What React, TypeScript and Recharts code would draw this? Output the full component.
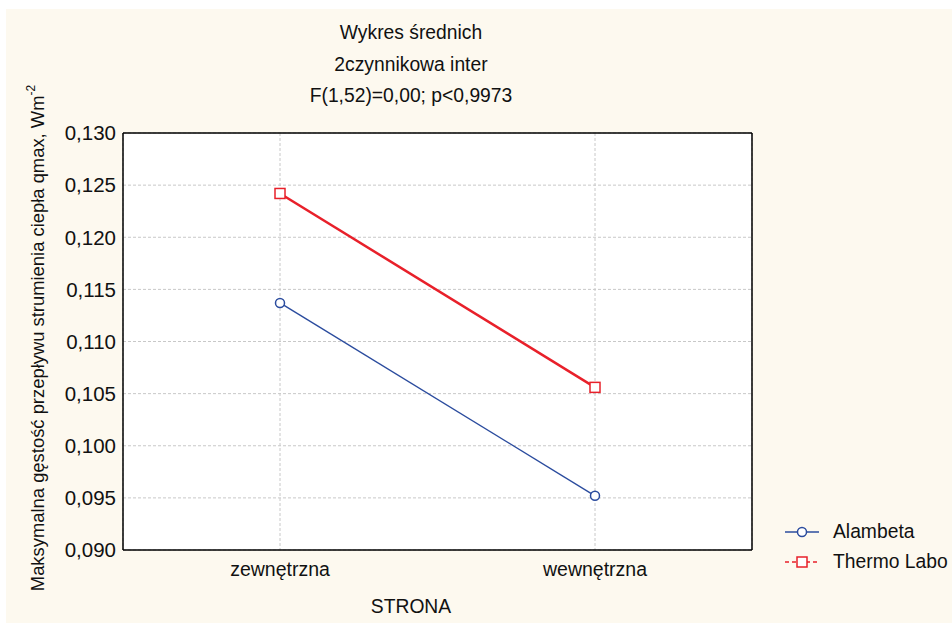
import React from "react";
import {
  LineChart,
  Line,
  XAxis,
  YAxis,
  CartesianGrid,
  Legend,
} from "recharts";

const categories = ["zewnętrzna", "wewnętrzna"];
const alambeta = [0.1137, 0.0952];
const thermoLabo = [0.1242, 0.1056];
const yTicks = [0.09, 0.095, 0.1, 0.105, 0.11, 0.115, 0.12, 0.125, 0.13];
const titleLines = ["Wykres średnich", "2czynnikowa inter", "F(1,52)=0,00; p<0,9973"];

// minor ticks every 0.001 between the major ones
const minorTicks = Array.from({ length: 41 }, (_, i) => +(0.09 + i * 0.001).toFixed(3));

const data = categories.map((c, i) => ({
  strona: c,
  Alambeta: alambeta[i],
  "Thermo Labo": thermoLabo[i],
}));

const BLUE = "#2b4c9e";
const RED = "#e8202a";
const BG = "#fdf9ef";
const FONT = "'Liberation Sans', Arial, sans-serif";
const DOMAIN: [number, number] = [0.09, 0.13];

const fmt = (v: number) => v.toFixed(3).replace(".", ",");

const SquareDot = (props: any) => {
  const { cx, cy } = props;
  if (cx == null || cy == null) return null;
  return (
    <rect x={cx - 5} y={cy - 5} width={10} height={10} fill="#fff" stroke={RED} strokeWidth={1.5} />
  );
};

const YLabel = () => (
  <text
    transform="translate(36, 330) rotate(-90)"
    textAnchor="middle"
    fontSize={18.4}
    fontFamily={FONT}
    fill="#111"
  >
    Maksymalna gęstość przepływu strumienia ciepła qmax, Wm
    <tspan dy={-9} fontSize={12}>-2</tspan>
  </text>
);

const XLabel = () => (
  <text x={403} y={605} textAnchor="middle" fontSize={19.3} fontFamily={FONT} fill="#111">
    STRONA
  </text>
);

const LegendContent = () => (
  <div style={{ fontFamily: FONT, fontSize: 19.3, color: "#111", whiteSpace: "nowrap" }}>
    <div style={{ display: "flex", alignItems: "center", height: 30 }}>
      <svg width={48} height={14} style={{ flexShrink: 0 }}>
        <line x1={0} y1={7} x2={34} y2={7} stroke={BLUE} strokeWidth={1.5} />
        <circle cx={17} cy={7} r={4.5} fill="#fff" stroke={BLUE} strokeWidth={1.5} />
      </svg>
      <span>Alambeta</span>
    </div>
    <div style={{ display: "flex", alignItems: "center", height: 30 }}>
      <svg width={48} height={14} style={{ flexShrink: 0 }}>
        <line x1={0} y1={7} x2={34} y2={7} stroke={RED} strokeWidth={1.5} strokeDasharray="4 3" />
        <rect x={12} y={2} width={10} height={10} fill="#fff" stroke={RED} strokeWidth={1.5} />
      </svg>
      <span>Thermo Labo</span>
    </div>
  </div>
);

export default function App() {
  return (
    <div style={{ position: "fixed", left: 0, top: 0, width: 952, height: 623, background: "#fff", overflow: "hidden" }}>
      <style>{"body{margin:0;overflow:hidden}"}</style>
      <div style={{ position: "absolute", left: 6, top: 9, right: 0, bottom: 0, background: BG }} />
      <div style={{ position: "absolute", left: 8, top: 8, width: 944, height: 615 }}>
        <div
          style={{
            position: "absolute",
            left: 253,
            width: 300,
            top: 9,
            textAlign: "center",
            fontFamily: FONT,
            fontSize: 19.3,
            color: "#111",
            lineHeight: "31.5px",
          }}
        >
          {titleLines.map((t) => (
            <div key={t}>{t}</div>
          ))}
        </div>
        <LineChart
          width={944}
          height={615}
          data={data}
          margin={{ top: 125, right: 200, bottom: 43, left: 55 }}
          style={{ fontFamily: FONT }}
        >
          <CartesianGrid
            fill="#ffffff"
            stroke="#c8c8c8"
            strokeDasharray="3 2"
            horizontalValues={yTicks}
          />
          <XAxis
            dataKey="strona"
            padding={{ left: 157, right: 157 }}
            height={30}
            axisLine={{ stroke: "#000", strokeWidth: 1.5 }}
            tickLine={false}
            tickSize={0}
            tickMargin={12}
            tick={{ fill: "#111", fontSize: 19.5 }}
            label={{ content: () => <XLabel /> }}
          />
          <XAxis
            xAxisId="bottomTicks"
            dataKey="strona"
            padding={{ left: 157, right: 157 }}
            mirror
            axisLine={false}
            tick={false}
            tickLine={{ stroke: "#000", strokeWidth: 1.2 }}
            tickSize={3}
          />
          <XAxis
            xAxisId="top"
            dataKey="strona"
            orientation="top"
            mirror
            axisLine={{ stroke: "#000", strokeWidth: 1.5 }}
            tick={false}
            tickLine={false}
          />
          <YAxis
            type="number"
            domain={DOMAIN}
            ticks={yTicks}
            interval={0}
            width={60}
            tickFormatter={fmt}
            axisLine={{ stroke: "#000", strokeWidth: 1.5 }}
            tickLine={false}
            tickSize={0}
            tickMargin={7}
            tick={{ fill: "#111", fontSize: 20.5 }}
            label={{ content: () => <YLabel /> }}
          />
          <YAxis
            yAxisId="minorL"
            type="number"
            domain={DOMAIN}
            ticks={minorTicks}
            interval={0}
            mirror
            axisLine={false}
            tick={false}
            tickLine={{ stroke: "#000", strokeWidth: 1.2 }}
            tickSize={3}
          />
          <YAxis
            yAxisId="minorR"
            orientation="right"
            type="number"
            domain={DOMAIN}
            ticks={minorTicks}
            interval={0}
            mirror
            axisLine={{ stroke: "#000", strokeWidth: 1.5 }}
            tick={false}
            tickLine={{ stroke: "#000", strokeWidth: 1.2 }}
            tickSize={3}
          />
          <Legend
            layout="horizontal"
            align="center"
            verticalAlign="middle"
            content={<LegendContent />}
            wrapperStyle={{ position: "absolute", left: 777, top: 509, width: 167 }}
          />
          <Line
            dataKey="Alambeta"
            stroke={BLUE}
            strokeWidth={1.4}
            dot={{ r: 4.5, fill: "#fff", stroke: BLUE, strokeWidth: 1.5 }}
            activeDot={false}
            isAnimationActive={false}
          />
          <Line
            dataKey="Thermo Labo"
            stroke={RED}
            strokeWidth={2.5}
            dot={<SquareDot />}
            activeDot={false}
            isAnimationActive={false}
          />
        </LineChart>
      </div>
    </div>
  );
}
